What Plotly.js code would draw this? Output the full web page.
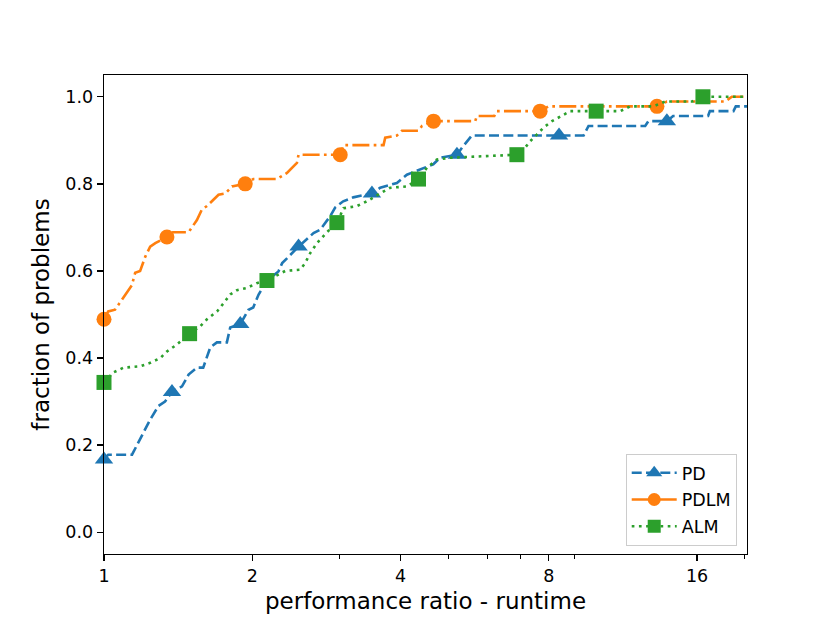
<!DOCTYPE html>
<html>
<head>
<meta charset="utf-8">
<script src="https://cdn.plot.ly/plotly-3.0.1.min.js"></script>
<style>html,body{margin:0;padding:0;background:#fff;}#chart{width:830px;height:623px;}</style>
</head>
<body>
<div id="chart"></div>
<script>
// Performance ratios (x) and fraction of problems (y) for each solver
var pdX = [1, 1.02, 1.14, 1.24, 1.29, 1.33, 1.374, 1.44, 1.485, 1.544, 1.59, 1.643, 1.695, 1.776, 1.804, 1.891, 1.965, 2.009, 2.06, 2.145, 2.26, 2.30, 2.483, 2.663, 2.748, 2.88, 2.948, 3.059, 3.206, 3.499, 3.637, 3.932, 4.12, 4.384, 4.66, 4.81, 5.206, 5.33, 5.58, 8.39, 9.41, 9.63, 12.55, 12.74, 13.89, 14.3, 16.84, 16.98, 18.96, 19.17, 20.2];
var pdY = [0.167, 0.178, 0.178, 0.258, 0.29, 0.30, 0.322, 0.335, 0.362, 0.378, 0.378, 0.424, 0.436, 0.436, 0.47, 0.478, 0.511, 0.516, 0.546, 0.578, 0.599, 0.618, 0.656, 0.687, 0.695, 0.726, 0.746, 0.760, 0.769, 0.778, 0.791, 0.802, 0.821, 0.833, 0.845, 0.860, 0.867, 0.883, 0.911, 0.911, 0.911, 0.933, 0.933, 0.944, 0.944, 0.956, 0.956, 0.967, 0.967, 0.978, 0.978];
var pdMarkIdx = [0, 6, 15, 22, 29, 36, 39, 44];

var pdlmX = [1, 1.02, 1.053, 1.087, 1.139, 1.157, 1.184, 1.213, 1.241, 1.271, 1.342, 1.38, 1.485, 1.544, 1.58, 1.618, 1.669, 1.708, 1.763, 1.819, 1.935, 2.01, 2.244, 2.352, 2.464, 2.483, 3.017, 3.064, 3.694, 3.723, 3.932, 4.025, 4.35, 4.42, 4.666, 5.67, 5.716, 6.2, 6.27, 7.68, 7.98, 13.26, 13.89, 18.24, 18.82, 20.2];
var pdlmY = [0.489, 0.507, 0.511, 0.533, 0.567, 0.596, 0.60, 0.633, 0.656, 0.664, 0.678, 0.689, 0.689, 0.717, 0.741, 0.749, 0.764, 0.775, 0.778, 0.794, 0.80, 0.811, 0.811, 0.825, 0.848, 0.867, 0.867, 0.889, 0.889, 0.906, 0.911, 0.922, 0.922, 0.933, 0.944, 0.944, 0.956, 0.956, 0.967, 0.967, 0.978, 0.978, 0.989, 0.989, 1.0, 1.0];
var pdlmMarkIdx = [0, 10, 20, 26, 34, 39, 41];

var almX = [1, 1.045, 1.096, 1.184, 1.241, 1.301, 1.342, 1.406, 1.492, 1.568, 1.618, 1.696, 1.749, 1.804, 1.862, 1.951, 2.043, 2.142, 2.333, 2.502, 2.561, 2.622, 2.706, 2.835, 2.970, 3.064, 3.262, 3.418, 3.637, 3.811, 4.12, 4.35, 4.525, 4.741, 5.044, 6.89, 7.16, 7.33, 7.56, 7.80, 8.12, 8.57, 8.84, 9.98, 11.17, 11.70, 13.03, 13.78, 15.63, 16.44, 20.2];
var almY = [0.344, 0.367, 0.378, 0.381, 0.389, 0.40, 0.415, 0.431, 0.456, 0.473, 0.489, 0.507, 0.526, 0.546, 0.556, 0.561, 0.572, 0.578, 0.60, 0.603, 0.618, 0.641, 0.664, 0.689, 0.711, 0.744, 0.749, 0.76, 0.778, 0.791, 0.794, 0.811, 0.837, 0.856, 0.86, 0.867, 0.883, 0.898, 0.913, 0.929, 0.944, 0.959, 0.967, 0.967, 0.967, 0.978, 0.978, 0.989, 0.989, 1.0, 1.0];
var almMarkIdx = [0, 8, 17, 24, 31, 35, 43, 49];

var seriesNames = ['PD', 'PDLM', 'ALM'];
var xTickVals = [1, 2, 4, 8, 16];
var xTickText = ['1', '2', '4', '8', '16'];
var xMinorVals = [3, 5, 6, 7, 9, 20];
var yTickVals = [0, 0.2, 0.4, 0.6, 0.8, 1.0];
var yTickText = ['0.0', '0.2', '0.4', '0.6', '0.8', '1.0'];

var styles = [
  {color: '#1f77b4', dash: '10px,4.3px', symbol: 'triangle-up', size: 16, legSize: 14},
  {color: '#ff7f0e', dash: '17px,4.3px,2.7px,4.3px', symbol: 'circle', size: 15, legSize: 13},
  {color: '#2ca02c', dash: '2.7px,4.5px', symbol: 'square', size: 15, legSize: 13}
];

function sizes(n, idx, s) {
  var a = [];
  for (var i = 0; i < n; i++) a.push(idx.indexOf(i) >= 0 ? s : 0);
  return a;
}

function curve(name, x, y, idx, st) {
  return {
    type: 'scatter', mode: 'lines+markers', name: name, showlegend: false, legendgroup: name,
    x: x, y: y,
    line: {shape: 'linear', color: st.color, width: 2.6, dash: st.dash},
    marker: {color: st.color, symbol: st.symbol, size: sizes(x.length, idx, st.size), opacity: 1, line: {width: 0}},
    cliponaxis: false
  };
}
function legendEntry(name, st) {
  return {
    type: 'scatter', mode: 'lines+markers', name: name, showlegend: true, legendgroup: name,
    x: [null], y: [null],
    line: {color: st.color, width: 2.6, dash: st.dash},
    marker: {color: st.color, symbol: st.symbol, size: st.legSize, opacity: 1, line: {width: 0}}
  };
}

var data = [
  curve(seriesNames[0], pdX, pdY, pdMarkIdx, styles[0]),
  curve(seriesNames[1], pdlmX, pdlmY, pdlmMarkIdx, styles[1]),
  curve(seriesNames[2], almX, almY, almMarkIdx, styles[2]),
  legendEntry(seriesNames[0], styles[0]),
  legendEntry(seriesNames[1], styles[1]),
  legendEntry(seriesNames[2], styles[2])
];

var axisCommon = {
  showline: true, mirror: true, linecolor: 'black', linewidth: 1.3,
  ticks: 'outside', ticklen: 6, tickwidth: 1.3, tickcolor: 'black',
  showgrid: false, zeroline: false,
  tickfont: {family: 'DejaVu Sans', size: 17.5, color: 'black'}
};

var layout = {
  width: 830, height: 623,
  margin: {l: 104, r: 83, t: 75, b: 69},
  paper_bgcolor: 'white', plot_bgcolor: 'white',
  font: {family: 'DejaVu Sans', size: 17.5, color: 'black'},
  showlegend: true,
  xaxis: Object.assign({}, axisCommon, {
    type: 'log', range: [0, Math.log10(20.2)],
    tickmode: 'array', tickvals: xTickVals, ticktext: xTickText,
    minor: {tickmode: 'array', tickvals: xMinorVals, ticks: 'outside', ticklen: 3.5, tickwidth: 1, tickcolor: 'black', showgrid: false},
    title: {text: 'performance ratio - runtime', font: {family: 'DejaVu Sans', size: 23, color: 'black'}, standoff: 7}
  }),
  yaxis: Object.assign({}, axisCommon, {
    range: [-0.05, 1.05],
    tickmode: 'array', tickvals: yTickVals, ticktext: yTickText,
    title: {text: 'fraction of problems', font: {family: 'DejaVu Sans', size: 23, color: 'black'}, standoff: 9}
  }),
  legend: {
    x: 0.984, y: 0.017, xanchor: 'right', yanchor: 'bottom',
    bgcolor: 'rgba(255,255,255,0.8)', bordercolor: '#cccccc', borderwidth: 1,
    font: {family: 'DejaVu Sans', size: 17.5, color: 'black'},
    itemwidth: 45, tracegroupgap: 1, traceorder: 'grouped'
  }
};

Plotly.newPlot('chart', data, layout, {displayModeBar: false, staticPlot: true});
</script>
</body>
</html>
